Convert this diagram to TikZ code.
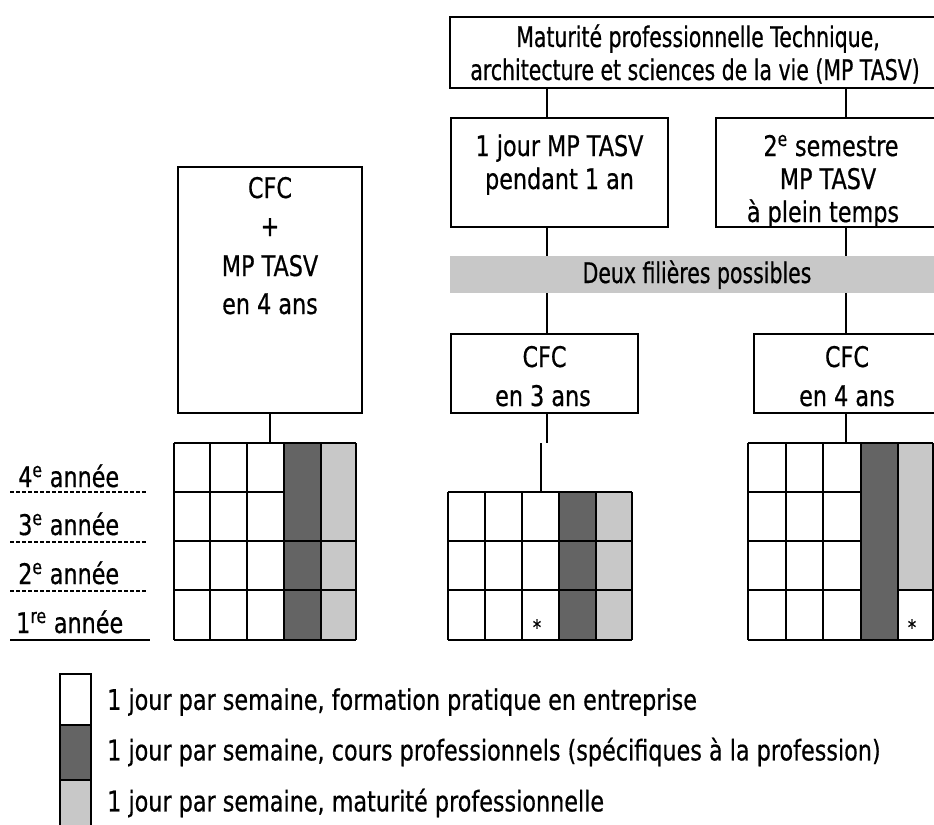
\documentclass[tikz,border=0pt]{standalone}
\usepackage{fontspec}
\setmainfont[FakeStretch=0.785,FakeBold=0.6]{DejaVu Sans}
\newfontfamily\narrowfont[FakeStretch=0.72,FakeBold=0.6]{DejaVu Sans}
\usetikzlibrary{fit}
\definecolor{darkg}{HTML}{646464}
\definecolor{lightg}{HTML}{C8C8C8}
\begin{document}
\begin{tikzpicture}[x=0.75pt,y=-0.75pt,
  box/.style={draw, line width=1.5pt, inner sep=0pt},
  frame/.style={inner sep=0pt},
  conn/.style={line width=1.5pt},
  thinconn/.style={line width=0.8pt},
  gridline/.style={line width=1pt},
  txt/.style={anchor=base, inner sep=0pt, font=\fontsize{21.3}{24}\selectfont},
  ntxt/.style={anchor=base, inner sep=0pt, font=\narrowfont\fontsize{21.3}{24}\selectfont},
  ytxt/.style={anchor=base west, inner sep=0pt, font=\fontsize{21.3}{24}\selectfont},
  ltxt/.style={anchor=west, inner sep=0pt, font=\fontsize{21.3}{24}\selectfont},
  star/.style={anchor=base, inner sep=0pt, font=\fontsize{16}{16}\selectfont},
  yline/.style={line width=1.2pt, dash pattern=on 3pt off 1.5pt}
]
\useasboundingbox (0,0) rectangle (934,824);
\clip (0,0) rectangle (934,824);

% ---------- boxes ----------
\node[box, fit={(450,17) (944,88)}] (top) {};
\node[box, fit={(451,118) (668,227)}] (box1) {};
\node[box, fit={(716,118) (940,227)}] (box2) {};
\node[box, fit={(451,334) (638,413)}] (cfc3) {};
\node[box, fit={(754,334) (940,413)}] (cfc4) {};
\node[box, fit={(178,167) (362,413)}] (big) {};

% grid frames (for connector ends)
\node[frame, fit={(174,443) (356,640)}] (gL) {};
\node[frame, fit={(448,492) (632,640)}] (gM) {};
\node[frame, fit={(748,443) (933,640)}] (gR) {};

\coordinate (xa) at (547,0);
\coordinate (xb) at (846,0);
\coordinate (m1) at (547,443);
\coordinate (m2) at (541,443);

% ---------- connectors ----------
\draw[conn] (top.south -| xa) -- (box1.north -| xa);
\draw[conn] (top.south -| xb) -- (box2.north -| xb);
\draw[conn] (box1.south -| xa) -- (cfc3.north -| xa);
\draw[conn] (box2.south -| xb) -- (cfc4.north -| xb);
\draw[conn] (big.south) -- (gL.north -| big.south);
\draw[conn] (cfc3.south -| xa) -- (m1);
\draw[thinconn] (m2) -- (gM.north -| m2);
\draw[conn] (cfc4.south -| xb) -- (gR.north -| xb);

% band
\node[frame, fill=lightg, fit={(450,256) (944,293)}] (band) {};

% ---------- texts ----------
\node[ntxt] (t1) at (698,47) {Maturité professionnelle Technique,};
\node[ntxt] (t2) at (695,80) {architecture et sciences de la vie (MP TASV)};
\node[txt] (b1a) at (559.5,156) {1 jour MP TASV};
\node[txt] (b1b) at (559.5,189) {pendant 1 an};
\node[txt] (b2a) at (831,156) {2\textsuperscript{e} semestre};
\node[txt] (b2b) at (828,189) {MP TASV};
\node[txt] (b2c) at (823,222) {à plein temps};
\node[ntxt] (bd) at (697,283) {Deux filières possibles};
\node[txt] (c3a) at (544.5,367) {CFC};
\node[txt] (c3b) at (543,406) {en 3 ans};
\node[txt] (c4a) at (847,367) {CFC};
\node[txt] (c4b) at (847,406) {en 4 ans};
\node[txt] (g1) at (270,198) {CFC};
\node[txt] (g2) at (270,236) {+};
\node[txt] (g3) at (270,276) {MP TASV};
\node[txt] (g4) at (270,314) {en 4 ans};

% ---------- year labels ----------
\node[ytxt] (y4) at (18,487) {4\textsuperscript{e} année};
\node[ytxt] (y3) at (18,535) {3\textsuperscript{e} année};
\node[ytxt] (y2) at (18,584) {2\textsuperscript{e} année};
\node[ytxt] (y1) at (16,633) {1\textsuperscript{re} année};
\draw[yline] (10,492) -- (148,492);
\draw[yline] (10,542) -- (148,542);
\draw[yline] (10,591) -- (148,591);
\draw[line width=2.2pt] (10,640) -- (150,640);

% ---------- left grid ----------
\fill[darkg] (284,443) rectangle (321,640);
\fill[lightg] (321,443) rectangle (356,640);
\foreach \x in {174,210,247,284,321,356} \draw[gridline] (\x,443) -- (\x,640);
\draw[gridline] (174,443) -- (356,443);
\draw[gridline] (174,492) -- (284,492);
\draw[gridline] (174,541) -- (356,541);
\draw[gridline] (174,590) -- (356,590);
\draw[gridline] (174,640) -- (356,640);

% ---------- middle grid ----------
\fill[darkg] (559,492) rectangle (596,640);
\fill[lightg] (596,492) rectangle (632,640);
\foreach \x in {448,485,522,559,596,632} \draw[gridline] (\x,492) -- (\x,640);
\foreach \y in {492,541,590,640} \draw[gridline] (448,\y) -- (632,\y);
\node[star] (s1) at (537,635) {*};

% ---------- right grid ----------
\fill[darkg] (861,443) rectangle (898,640);
\fill[lightg] (898,443) rectangle (933,590);
\foreach \x in {748,786,823,861,898,933} \draw[gridline] (\x,443) -- (\x,640);
\draw[gridline] (748,443) -- (933,443);
\foreach \y in {492,541,590} \draw[gridline] (748,\y) -- (861,\y);
\draw[gridline] (898,590) -- (933,590);
\draw[gridline] (748,640) -- (933,640);
\node[star] (s2) at (912,635) {*};

% ---------- legend ----------
\node[box, fill=white, fit={(60,674) (91,725)}] (lw) {};
\node[box, fill=darkg, fit={(60,725) (91,780)}] (ld) {};
\node[box, fill=lightg, fit={(60,780) (91,834)}] (ll) {};
\node[ltxt] (lt1) at (107,702) {1 jour par semaine, formation pratique en entreprise};
\node[ltxt] (lt2) at (107,752) {1 jour par semaine, cours professionnels (spécifiques à la profession)};
\node[ltxt] (lt3) at (107,803) {1 jour par semaine, maturité professionnelle};
\end{tikzpicture}
\end{document}
